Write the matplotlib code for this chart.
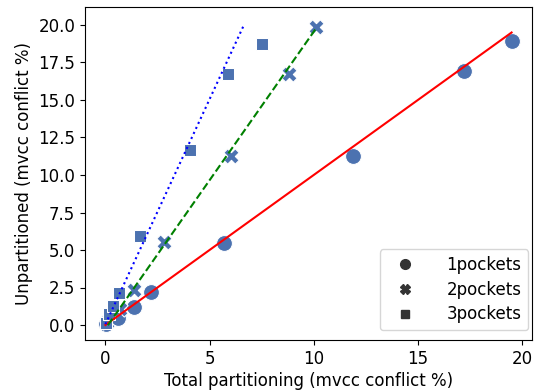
import numpy as np
import matplotlib
matplotlib.use("Agg")
import matplotlib.pyplot as plt
from matplotlib.lines import Line2D

# data
p1_x = [0.05, 0.6, 1.35, 2.2, 5.7, 11.9, 17.2, 19.5]
p1_y = [0.1, 0.5, 1.2, 2.2, 5.5, 11.25, 16.95, 18.95]
p2_x = [0.1, 0.7, 1.35, 2.8, 6.05, 8.8, 10.1]
p2_y = [0.2, 1.1, 2.35, 5.55, 11.25, 16.75, 19.85]
p3_x = [0.03, 0.15, 0.35, 0.65, 1.65, 4.05, 5.9, 7.5]
p3_y = [0.15, 0.75, 1.3, 2.15, 5.95, 11.7, 16.75, 18.75]
labels = ["1pockets", "2pockets", "3pockets"]

# fitted lines
fit_slope = [1.0, 1.98, 3.0]
fit_intercept = [0.0, -0.25, 0.05]
fit_xmin = [0.0, 0.12, 0.0]
fit_xmax = [19.5, 10.1, 6.62]

color = "#4c72b0"
fig = plt.figure(figsize=(5.39, 3.9), dpi=100)
ax = fig.add_axes([85/539, 50/390, 447/539, 333/390])

markers = ["o", "X", "s"]
sizes = [130, 120, 70]
for xs, ys, m, s in zip([p1_x, p2_x, p3_x], [p1_y, p2_y, p3_y], markers, sizes):
    ax.scatter(xs, ys, marker=m, s=s, color=color, edgecolor="white", linewidth=0.75, zorder=2)

styles = [("red", "-"), ("green", "--"), ("blue", ":")]
for k, b, x0, x1, (c, ls) in zip(fit_slope, fit_intercept, fit_xmin, fit_xmax, styles):
    xx = np.array([x0, x1])
    ax.plot(xx, k * xx + b, color=c, linestyle=ls, linewidth=1.5, zorder=3)

ax.set_xlim(-0.98, 20.48)
ax.set_ylim(-1.0, 21.2)
ax.set_xticks([0, 5, 10, 15, 20])
ax.set_yticks(np.arange(0, 20.1, 2.5))
ax.set_yticklabels([f"{v:.1f}" for v in np.arange(0, 20.1, 2.5)])
ax.tick_params(labelsize=12)
ax.set_xlabel("Total partitioning (mvcc conflict %)", fontsize=12, labelpad=3)
ax.set_ylabel("Unpartitioned (mvcc conflict %)", fontsize=12)

handles = [Line2D([], [], marker=m, color="#333333", linestyle="", markersize=ms)
           for m, ms in zip(markers, [7, 6.5, 5.5])]
ax.legend(handles, labels, loc="lower right", fontsize=12, borderpad=0.4,
          labelspacing=0.4, handletextpad=1.4, handlelength=2.2,
          bbox_to_anchor=(1.0096, 0.005))

fig.savefig("out.png", dpi=100)
